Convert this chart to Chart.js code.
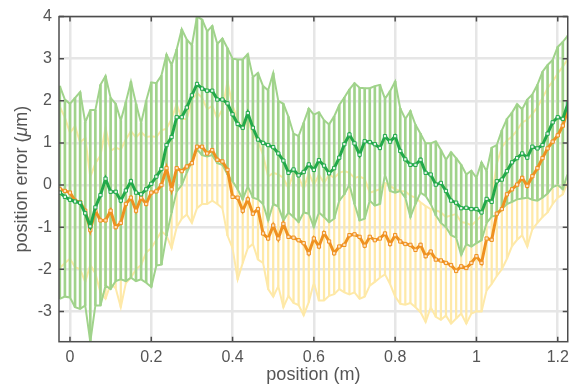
<!DOCTYPE html>
<html>
<head>
<meta charset="utf-8">
<script src="https://cdn.jsdelivr.net/npm/chart.js@4/dist/chart.umd.min.js"></script>
<style>
  html, body { margin:0; padding:0; background:#fff; }
  #wrap { width:575px; height:387px; }
</style>
</head>
<body>
<div id="wrap"><canvas id="chart" width="575" height="387"></canvas></div>
<script>
// --- data ---
const position = [
  -0.025,-0.0125,0,0.0125,0.025,0.0375,0.05,0.0625,0.075,0.0875,
  0.1,0.1125,0.125,0.1375,0.15,0.1625,0.175,0.1875,0.2,0.2125,
  0.225,0.2375,0.25,0.2625,0.275,0.2875,0.3,0.3125,0.325,0.3375,
  0.35,0.3625,0.375,0.3875,0.4,0.4125,0.425,0.4375,0.45,0.4625,
  0.475,0.4875,0.5,0.5125,0.525,0.5375,0.55,0.5625,0.575,0.5875,
  0.6,0.6125,0.625,0.6375,0.65,0.6625,0.675,0.6875,0.7,0.7125,
  0.725,0.7375,0.75,0.7625,0.775,0.7875,0.8,0.8125,0.825,0.8375,
  0.85,0.8625,0.875,0.8875,0.9,0.9125,0.925,0.9375,0.95,0.9625,
  0.975,0.9875,1,1.0125,1.025,1.0375,1.05,1.0625,1.075,1.0875,
  1.1,1.1125,1.125,1.1375,1.15,1.1625,1.175,1.1875,1.2,1.2125,1.225
];

// green run: mean and +/- band
const greenMean = [
  -0.18,-0.28,-0.35,-0.39,-0.42,-0.67,-0.98,-0.53,-0.24,0.15,
  -0.16,-0.16,-0.37,-0.13,0.09,-0.18,-0.22,-0.10,0.03,0.20,
  0.38,0.95,1.14,1.61,1.61,1.84,2.13,2.40,2.29,2.24,
  2.24,2.03,2.03,1.94,1.68,1.45,1.36,1.71,1.36,1.08,
  1.00,0.95,0.90,0.75,0.58,0.29,0.37,0.23,0.31,0.49,
  0.36,0.59,0.46,0.28,0.40,0.65,0.97,1.20,0.99,0.72,
  1.04,1.02,0.97,0.88,1.16,1.03,1.16,0.81,0.61,0.48,
  0.48,0.60,0.29,0.25,0.01,0.05,-0.14,-0.37,-0.42,-0.55,
  -0.54,-0.57,-0.57,-0.65,-0.33,-0.40,0.09,0.13,0.33,0.54,
  0.64,0.75,0.65,0.91,0.87,0.95,1.22,1.49,1.61,1.57,1.94
];
const greenHigh = [
  2.35,2.03,1.93,2.07,2.21,1.49,1.78,1.78,2.38,2.59,
  2.07,1.93,1.53,1.97,2.45,1.93,1.47,2.00,2.44,2.42,
  2.60,3.10,2.85,3.22,3.70,3.45,3.32,4.00,3.93,3.65,
  3.78,3.35,3.48,3.25,3.00,2.98,2.98,3.11,2.56,2.66,
  2.35,2.25,2.66,2.00,1.93,1.62,1.22,1.16,1.48,1.82,
  1.67,1.73,1.54,1.44,1.63,1.90,2.08,2.27,2.42,2.31,
  2.30,2.30,2.35,2.38,2.05,2.23,2.46,1.82,1.57,1.76,
  1.43,1.22,0.99,0.99,1.04,0.83,0.60,0.78,0.64,0.48,
  0.25,0.34,0.17,0.54,0.33,0.89,0.95,1.30,1.57,1.72,
  1.92,1.80,2.03,2.15,2.38,2.69,2.85,2.97,3.28,3.40,3.55
];
const greenLow = [
  -2.70,-2.65,-2.67,-2.90,-2.94,-2.86,-3.72,-2.86,-2.86,-2.39,
  -2.47,-2.28,-2.24,-2.28,-2.20,-2.28,-2.24,-2.32,-2.42,-1.91,
  -1.89,-1.20,-0.65,-0.15,0.00,0.30,0.55,0.85,0.71,0.68,
  0.71,0.52,0.48,0.25,0.09,-0.10,-0.34,-0.03,-0.30,-0.34,
  -0.45,-0.84,-0.45,-0.51,-0.84,-0.65,-0.76,-0.88,-0.65,-0.68,
  -1.00,-0.65,-0.76,-0.88,-0.80,-0.37,-0.22,0.01,-0.45,-0.84,
  -0.80,-0.37,-0.49,-0.45,0.25,-0.14,-0.18,-0.14,-0.30,-0.76,
  -0.45,-0.18,-0.26,-0.45,-0.72,-0.90,-1.00,-1.19,-1.25,-1.66,
  -1.40,-1.46,-1.38,-1.31,-0.90,-0.75,-0.72,-0.57,-0.45,-0.40,
  -0.34,-0.32,-0.30,-0.35,-0.37,-0.30,-0.20,-0.05,0.00,-0.10,0.29
];

// orange run: mean and +/- band
const orangeMean = [
  -0.10,-0.14,-0.18,-0.37,-0.41,-0.61,-1.07,-0.61,-0.84,-0.84,
  -0.61,-1.00,-0.90,-0.45,-0.30,-0.61,-0.30,-0.45,-0.18,-0.15,
  0.00,0.40,-0.10,0.40,0.33,0.44,0.52,0.91,0.91,0.75,
  0.83,0.60,0.56,0.36,-0.28,-0.30,-0.61,-0.34,-0.68,-0.57,
  -1.15,-1.27,-0.96,-1.27,-0.92,-1.23,-1.25,-1.31,-1.38,-1.62,
  -1.27,-1.46,-1.14,-1.34,-1.62,-1.46,-1.42,-1.19,-1.17,-1.23,
  -1.44,-1.23,-1.31,-1.27,-1.15,-1.40,-1.19,-1.34,-1.40,-1.42,
  -1.54,-1.42,-1.69,-1.58,-1.77,-1.79,-1.85,-1.90,-2.04,-1.93,
  -1.97,-1.85,-1.69,-1.85,-1.27,-1.30,-0.68,-0.57,-0.22,-0.10,
  0.01,0.17,-0.02,0.21,0.40,0.64,0.87,1.03,1.18,1.41,1.80
];
const orangeHigh = [
  1.86,1.60,1.24,1.40,1.01,1.12,0.19,0.52,0.70,1.36,
  0.81,0.89,0.84,1.08,1.28,1.13,1.26,1.14,1.16,1.14,
  1.30,1.34,1.57,1.92,1.57,1.57,2.03,2.19,2.07,1.80,
  1.88,1.57,1.80,2.46,1.88,1.57,1.30,1.57,1.20,1.05,
  0.71,0.20,0.29,0.25,0.17,-0.08,0.30,0.20,-0.10,0.30,
  0.00,0.25,0.05,0.25,0.17,0.29,0.33,0.29,0.17,0.20,
  0.15,-0.18,-0.14,-0.10,0.05,-0.02,-0.10,-0.14,-0.15,-0.25,
  -0.30,-0.41,-0.50,-0.57,-0.60,-0.65,-0.76,-0.72,-0.69,-0.88,
  -0.90,-0.96,-0.85,-0.72,-0.41,-0.30,0.50,0.90,1.06,1.15,
  1.30,1.49,1.55,1.69,1.85,2.07,2.30,2.46,2.65,2.81,3.00
];
const orangeLow = [
  -1.97,-1.85,-1.75,-1.95,-2.00,-2.30,-1.90,-2.10,-2.55,-2.70,
  -2.35,-2.45,-2.90,-2.33,-2.20,-2.00,-1.90,-1.60,-1.50,-1.30,
  -1.10,-1.20,-1.50,-1.00,-0.80,-0.70,-0.90,-0.55,-0.45,-0.45,
  -0.37,-0.45,-0.55,-1.20,-1.50,-2.24,-1.85,-1.50,-1.40,-1.77,
  -1.85,-2.47,-2.65,-2.40,-2.90,-2.63,-2.80,-2.85,-3.09,-2.78,
  -2.32,-2.74,-2.74,-2.63,-2.59,-2.47,-2.55,-2.60,-2.55,-2.70,
  -2.65,-2.39,-2.30,-2.20,-2.12,-2.35,-2.65,-2.82,-2.84,-2.80,
  -2.90,-3.02,-3.25,-2.90,-3.13,-3.20,-3.10,-3.29,-3.17,-3.05,
  -3.29,-3.05,-3.00,-3.00,-2.50,-2.35,-2.16,-2.00,-1.75,-1.45,
  -1.30,-1.19,-1.46,-1.05,-0.90,-0.76,-0.65,-0.45,-0.30,-0.22,0.09
];

const xTicks = [0, 0.2, 0.4, 0.6, 0.8, 1, 1.2];
const yTicks = [-3, -2, -1, 0, 1, 2, 3, 4];

// --- colours ---
const GREEN = '#22a94a', GREEN_LIGHT = '#a0d38b';
const ORANGE = '#ef9120', YELLOW = '#fee9a8';
const AXIS = '#4d4d4d', TEXT = '#555555';
const FONT = '"Liberation Sans", Arial, Helvetica, sans-serif';

Chart.defaults.font.family = FONT;
Chart.defaults.color = TEXT;

const pts = arr => arr.map((v, i) => ({ x: position[i], y: v }));
const bars = (lo, hi) => lo.map((v, i) => ({ x: position[i], y: [v, hi[i]] }));

// box round the plot, inward tick marks, and the y title with an italic mu
const frame = {
  id: 'frame',
  afterDraw(chart) {
    const { ctx, chartArea: a, scales: { x, y } } = chart;
    ctx.save();
    ctx.strokeStyle = AXIS;
    ctx.lineWidth = 1.5;
    ctx.strokeRect(a.left, a.top, a.right - a.left, a.bottom - a.top);
    ctx.beginPath();
    xTicks.forEach(v => {
      const px = x.getPixelForValue(v);
      ctx.moveTo(px, a.bottom); ctx.lineTo(px, a.bottom - 5);
      ctx.moveTo(px, a.top); ctx.lineTo(px, a.top + 5);
    });
    yTicks.forEach(v => {
      const py = y.getPixelForValue(v);
      ctx.moveTo(a.left, py); ctx.lineTo(a.left + 5, py);
      ctx.moveTo(a.right, py); ctx.lineTo(a.right - 5, py);
    });
    ctx.stroke();

    // y axis title
    const parts = [['position error (', ''], ['\u03bc', 'italic '], ['m)', '']];
    let total = 0;
    parts.forEach(p => { ctx.font = p[1] + '18px ' + FONT; total += ctx.measureText(p[0]).width; });
    ctx.translate(22, (a.top + a.bottom) / 2);
    ctx.rotate(-Math.PI / 2);
    ctx.fillStyle = TEXT;
    ctx.textBaseline = 'middle';
    let cx = -total / 2;
    parts.forEach(p => {
      ctx.font = p[1] + '18px ' + FONT;
      ctx.fillText(p[0], cx, 0);
      cx += ctx.measureText(p[0]).width;
    });
    ctx.restore();
  }
};

new Chart(document.getElementById('chart'), {
  type: 'line',
  data: {
    datasets: [
      { // green mean
        data: pts(greenMean), borderColor: GREEN, borderWidth: 3,
        pointStyle: 'rect', pointRadius: 2.3, pointBorderWidth: 1,
        pointBorderColor: GREEN, pointBackgroundColor: '#e6f6ea', order: 0
      },
      { // orange mean
        data: pts(orangeMean), borderColor: ORANGE, borderWidth: 3,
        pointStyle: 'rect', pointRadius: 2.3, pointBorderWidth: 1,
        pointBorderColor: ORANGE, pointBackgroundColor: '#fde3c2', order: 1
      },
      { data: pts(greenHigh), borderColor: GREEN_LIGHT, borderWidth: 2, pointRadius: 0, order: 2 },
      { data: pts(greenLow), borderColor: GREEN_LIGHT, borderWidth: 2, pointRadius: 0, order: 2 },
      { type: 'bar', data: bars(greenLow, greenHigh), backgroundColor: GREEN_LIGHT,
        barThickness: 2, grouped: false, borderWidth: 0, order: 3 },
      { data: pts(orangeHigh), borderColor: YELLOW, borderWidth: 2, pointRadius: 0, order: 4 },
      { data: pts(orangeLow), borderColor: YELLOW, borderWidth: 2, pointRadius: 0, order: 4 },
      { type: 'bar', data: bars(orangeLow, orangeHigh), backgroundColor: YELLOW,
        barThickness: 1.6, grouped: false, borderWidth: 0, order: 5 }
    ]
  },
  options: {
    responsive: false,
    animation: false,
    events: [],
    layout: { padding: { top: 10.7, right: 6.7, left: 0, bottom: 0 } },
    plugins: { legend: { display: false }, tooltip: { enabled: false } },
    elements: { line: { tension: 0 } },
    scales: {
      x: {
        type: 'linear', min: -0.027, max: 1.2246, offset: false,
        afterBuildTicks: s => { s.ticks = xTicks.map(v => ({ value: v })); },
        afterFit: s => { s.height = 45.3; },
        grid: { color: '#e6e6e6', lineWidth: 2.5, drawTicks: false, offset: false },
        border: { display: false },
        ticks: { padding: 6, font: { size: 16 }, color: TEXT, callback: v => String(v) },
        title: { display: true, text: 'position (m)', font: { size: 18 }, color: TEXT,
                 padding: { top: 0, bottom: 1 } }
      },
      y: {
        type: 'linear', min: -3.72, max: 4,
        afterBuildTicks: s => { s.ticks = yTicks.map(v => ({ value: v })); },
        afterFit: s => { s.width = 59; },
        grid: { color: '#e6e6e6', lineWidth: 2.5, drawTicks: false, offset: false },
        border: { display: false },
        ticks: { padding: 7, font: { size: 16 }, color: TEXT, callback: v => String(v) }
      }
    }
  },
  plugins: [frame]
});
</script>
</body>
</html>
